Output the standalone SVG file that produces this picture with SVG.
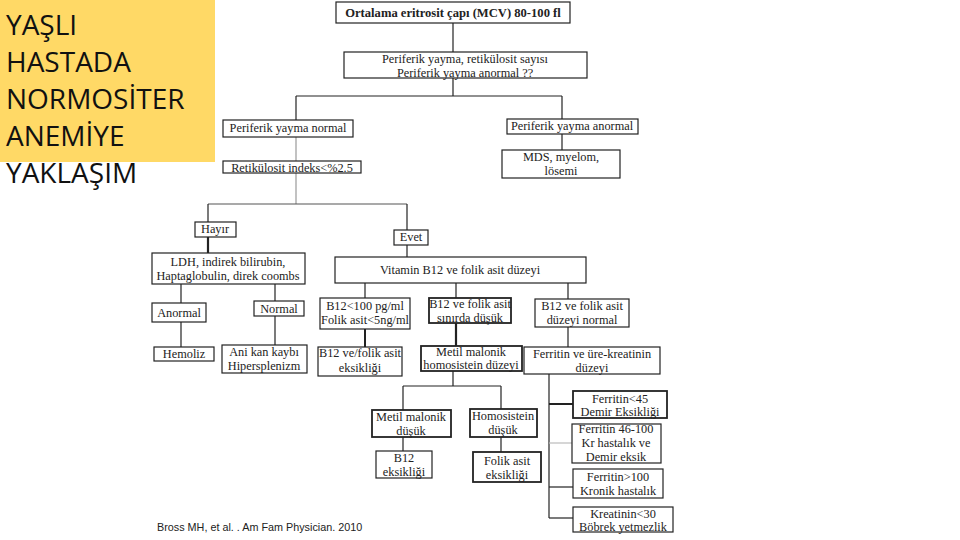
<svg xmlns="http://www.w3.org/2000/svg" width="960" height="540" viewBox="0 0 960 540">
<style>
.b{fill:#fff;stroke:#222;stroke-width:1.2}
.bt{fill:#fff;stroke:#222;stroke-width:1.8}
.t{font-family:"Liberation Serif",serif;font-size:12.3px;fill:#222;text-anchor:middle}
.c line{stroke:#222;stroke-width:1.2}
.h{font-family:"Open Sans","Liberation Sans",sans-serif;font-size:28px;fill:#111}
</style>
<rect width="960" height="540" fill="#fff"/>
<g id="title">
<rect x="0" y="0" width="215" height="162" fill="#FFD966"/>
<text class="h" x="6" y="35">YAŞLI</text>
<text class="h" x="6" y="72">HASTADA</text>
<text class="h" x="6" y="109">NORMOSİTER</text>
<text class="h" x="6" y="146">ANEMİYE</text>
<text class="h" x="6" y="183">YAKLAŞIM</text>
</g>
<g class="c" id="connectors">
<line x1="453" y1="23" x2="453" y2="52"/>
<line x1="453" y1="78" x2="453" y2="96"/>
<line x1="296" y1="96" x2="562" y2="96"/>
<line x1="296" y1="96" x2="296" y2="120"/>
<line x1="562" y1="96" x2="562" y2="119"/>
<line x1="562" y1="134" x2="562" y2="150"/>
<line x1="296" y1="137" x2="296" y2="161" style="stroke:#999"/>
<line x1="296" y1="173" x2="296" y2="204" style="stroke:#999"/>
<line x1="208" y1="204" x2="407" y2="204" style="stroke:#555"/>
<line x1="208" y1="204" x2="208" y2="222"/>
<line x1="407" y1="204" x2="407" y2="230"/>
<line x1="208" y1="237" x2="208" y2="253" style="stroke-width:2.2"/>
<line x1="407" y1="245" x2="407" y2="257"/>
<line x1="181" y1="284" x2="181" y2="303"/>
<line x1="275" y1="284" x2="275" y2="301"/>
<line x1="365" y1="283" x2="365" y2="298"/>
<line x1="456" y1="283" x2="456" y2="298"/>
<line x1="568" y1="283" x2="568" y2="299"/>
<line x1="181" y1="322" x2="181" y2="347"/>
<line x1="275" y1="316" x2="275" y2="345"/>
<line x1="365" y1="329" x2="365" y2="347" style="stroke-width:2"/>
<line x1="456" y1="323" x2="456" y2="346" style="stroke-width:2.2"/>
<line x1="568" y1="327" x2="568" y2="347"/>
<line x1="453" y1="371" x2="453" y2="386"/>
<line x1="403" y1="386" x2="501" y2="386"/>
<line x1="403" y1="386" x2="403" y2="410"/>
<line x1="501" y1="386" x2="501" y2="409"/>
<line x1="403" y1="437" x2="403" y2="451"/>
<line x1="501" y1="437" x2="501" y2="452"/>
<line x1="549" y1="374" x2="549" y2="518"/>
<line x1="549" y1="404" x2="573" y2="404" style="stroke-width:2"/>
<line x1="549" y1="443" x2="572" y2="443" style="stroke:#bbb"/>
<line x1="549" y1="487" x2="573" y2="487"/>
<line x1="549" y1="518" x2="573" y2="518"/>
</g>
<g id="n1"><rect class="b" x="336" y="2" width="234" height="21"/><text class="t" x="453" y="17" style="font-weight:bold;font-size:12.6px">Ortalama eritrosit çapı (MCV) 80-100 fl</text></g>
<g id="n2"><rect class="b" x="344" y="52" width="243" height="26"/><text class="t" x="465" y="63">Periferik yayma, retikülosit sayısı</text><text class="t" x="465" y="77">Periferik yayma anormal ??</text></g>
<g id="n3"><rect class="b" x="223" y="120" width="130" height="17"/><text class="t" x="288" y="132">Periferik yayma normal</text></g>
<g id="n4"><rect class="b" x="507" y="119" width="131" height="15"/><text class="t" x="572" y="130">Periferik yayma anormal</text></g>
<g id="n5"><rect class="b" x="502" y="150" width="118" height="28"/><text class="t" x="561" y="161">MDS, myelom,</text><text class="t" x="561" y="175">lösemi</text></g>
<g id="n6"><rect class="b" x="223" y="161" width="138" height="12"/><text class="t" x="292" y="172">Retikülosit indeks&lt;%2.5</text></g>
<g id="n7"><rect class="b" x="195" y="222" width="41" height="15"/><text class="t" x="215" y="233">Hayır</text></g>
<g id="n8"><rect class="b" x="394" y="230" width="34" height="15"/><text class="t" x="411" y="241">Evet</text></g>
<g id="n9"><rect class="b" x="152" y="253" width="153" height="31"/><text class="t" x="228" y="266">LDH, indirek bilirubin,</text><text class="t" x="228" y="280">Haptaglobulin, direk coombs</text></g>
<g id="n10"><rect class="b" x="335" y="257" width="251" height="26"/><text class="t" x="460" y="274">Vitamin B12 ve folik asit düzeyi</text></g>
<g id="n11"><rect class="b" x="152" y="303" width="54" height="19"/><text class="t" x="179" y="317">Anormal</text></g>
<g id="n12"><rect class="b" x="254" y="301" width="50" height="15"/><text class="t" x="279" y="313">Normal</text></g>
<g id="n13"><rect class="b" x="320" y="298" width="90" height="31"/><text class="t" x="365" y="310">B12&lt;100 pg/ml</text><text class="t" x="365" y="324">Folik asit&lt;5ng/ml</text></g>
<g id="n14"><rect class="bt" x="429" y="298" width="82" height="25"/><text class="t" x="470" y="308">B12 ve folik asit</text><text class="t" x="470" y="322">sınırda düşük</text></g>
<g id="n15"><rect class="b" x="535" y="299" width="94" height="28"/><text class="t" x="582" y="310">B12 ve folik asit</text><text class="t" x="582" y="324">düzeyi normal</text></g>
<g id="n16"><rect class="b" x="154" y="347" width="60" height="14"/><text class="t" x="184" y="358">Hemoliz</text></g>
<g id="n17"><rect class="b" x="222" y="345" width="85" height="28"/><text class="t" x="264" y="356">Ani kan kaybı</text><text class="t" x="264" y="370">Hipersplenizm</text></g>
<g id="n18"><rect class="b" x="318" y="347" width="84" height="29"/><text class="t" x="360" y="357">B12 ve/folik asit</text><text class="t" x="360" y="372">eksikliği</text></g>
<g id="n19"><rect class="bt" x="421" y="346" width="101" height="25"/><text class="t" x="471" y="356">Metil malonik</text><text class="t" x="471" y="369">homosistein düzeyi</text></g>
<g id="n20"><rect class="b" x="524" y="347" width="136" height="27"/><text class="t" x="592" y="358">Ferritin ve üre-kreatinin</text><text class="t" x="592" y="372">düzeyi</text></g>
<g id="n21"><rect class="bt" x="372" y="410" width="79" height="27"/><text class="t" x="411" y="421">Metil malonik</text><text class="t" x="411" y="435">düşük</text></g>
<g id="n22"><rect class="bt" x="470" y="409" width="67" height="28"/><text class="t" x="503" y="420">Homosistein</text><text class="t" x="503" y="434">düşük</text></g>
<g id="n23"><rect class="b" x="376" y="451" width="56" height="27"/><text class="t" x="404" y="462">B12</text><text class="t" x="404" y="476">eksikliği</text></g>
<g id="n24"><rect class="bt" x="473" y="452" width="68" height="30"/><text class="t" x="507" y="465">Folik asit</text><text class="t" x="507" y="479">eksikliği</text></g>
<g id="n25"><rect class="bt" x="573" y="391" width="94" height="27"/><text class="t" x="620" y="403">Ferritin&lt;45</text><text class="t" x="620" y="416">Demir Eksikliği</text></g>
<g id="n26"><rect class="b" x="572" y="424" width="89" height="39"/><text class="t" x="616" y="433">Ferritin 46-100</text><text class="t" x="616" y="447">Kr hastalık ve</text><text class="t" x="616" y="461">Demir eksik</text></g>
<g id="n27"><rect class="b" x="573" y="469" width="90" height="29"/><text class="t" x="618" y="481">Ferritin&gt;100</text><text class="t" x="618" y="495">Kronik hastalık</text></g>
<g id="n28"><rect class="b" x="573" y="507" width="100" height="25"/><text class="t" x="623" y="518">Kreatinin&lt;30</text><text class="t" x="623" y="531">Böbrek yetmezlik</text></g>
<text x="157" y="531" style="font-family:'Liberation Sans',sans-serif;font-size:10.8px;fill:#222">Bross MH, et al. . Am Fam Physician. 2010</text>
</svg>
